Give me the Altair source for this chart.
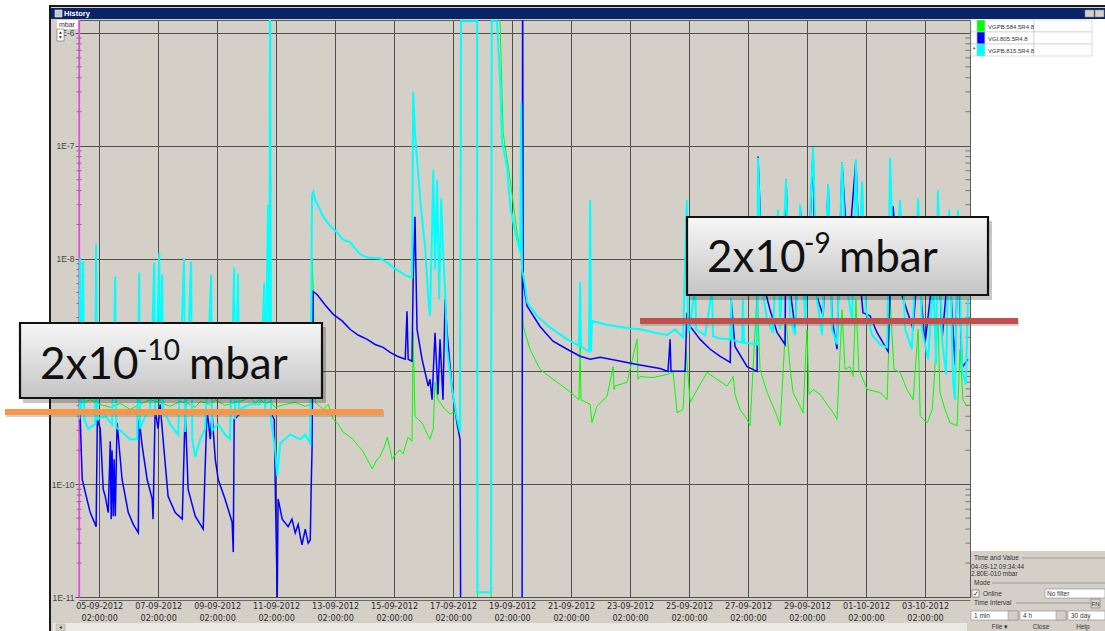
import altair as alt
import pandas as pd
import numpy as np

# ---------------- data ----------------
# time as day-of-month counted from 1 Sept 2012 (31 = 1 Oct), pressure in mbar
green_day = [4.41, 4.78, 5.12, 5.46, 5.80, 6.13, 6.47, 6.81, 7.15, 7.49, 7.83, 8.17, 8.34, 8.51, 8.85, 9.02,
             9.35, 9.69, 10.03, 10.20, 10.37, 10.54, 10.71, 10.88, 11.05, 11.39, 11.73, 12.07, 12.27, 12.30,
             12.34, 12.41, 12.68, 12.85, 13.02, 13.19, 13.35, 13.52, 13.69, 13.86, 14.00, 14.17, 14.34, 14.47,
             14.61, 14.74, 14.85, 14.95, 15.02, 15.19, 15.29, 15.39, 15.49, 15.56, 15.69, 15.73, 15.79, 15.90,
             16.03, 16.17, 16.30, 16.41, 16.47, 16.57, 16.64, 16.81, 16.98, 17.15, 17.22, 17.32, 17.35, 17.90,
             17.91, 18.37, 18.39, 18.61, 18.78, 19.02, 19.25, 19.39, 19.46, 19.69, 20.03, 20.47, 20.95, 21.35,
             21.39, 21.42, 21.73, 21.79, 21.96, 22.30, 22.51, 22.54, 22.57, 22.98, 23.32, 23.35, 23.42, 23.86,
             24.34, 24.54, 24.68, 24.88, 24.98, 25.12, 25.46, 25.69, 26.03, 26.37, 26.58, 26.64, 26.81, 27.05,
             27.15, 27.39, 27.49, 27.73, 28.07, 28.17, 28.37, 28.51, 28.61, 28.95, 29.08, 29.15, 29.29, 29.53,
             29.76, 29.97, 30.10, 30.27, 30.37, 30.54, 30.64, 30.74, 30.84, 31.12, 31.56, 31.80, 31.90, 32.03,
             32.24, 32.47, 32.68, 32.85, 32.92, 33.16, 33.33, 33.52, 33.59, 33.76, 33.93, 34.17, 34.27, 34.37,
             34.51]
green_p = [5.1e-10, 5.6e-10, 5.1e-10, 4.8e-10, 5.2e-10, 4.6e-10, 5.1e-10, 5.6e-10, 5.3e-10, 4.9e-10, 5.4e-10,
           5.1e-10, 4.8e-10, 5.4e-10, 5.1e-10, 5.6e-10, 5.0e-10, 5.3e-10, 5.6e-10, 6.0e-10, 5.2e-10, 5.7e-10,
           5.1e-10, 5.4e-10, 4.8e-10, 5.1e-10, 5.3e-10, 4.9e-10, 5.1e-10, 1.0e-8, 5.3e-9, 5.3e-10, 4.6e-10,
           5.1e-10, 3.75e-10, 3.4e-10, 2.9e-10, 2.7e-10, 2.5e-10, 2.2e-10, 2.0e-10, 1.66e-10, 1.37e-10, 1.6e-10,
           1.77e-10, 2.1e-10, 2.6e-10, 2.0e-10, 1.66e-10, 1.93e-10, 2.0e-10, 1.85e-10, 2.3e-10, 2.6e-10, 2.4e-10,
           2.2e-9, 4.0e-10, 3.75e-10, 3.5e-10, 2.9e-10, 2.5e-10, 3.1e-10, 8.0e-10, 5.6e-10, 5.3e-10, 4.6e-10,
           4.2e-10, 4.4e-10, 3.75e-10, 3.4e-10, 5e-6, 5e-6, 1e-12, 1e-12, 5e-6, 5e-6, 1.3e-7, 5.0e-8, 1.7e-8,
           1.09e-8, 2.5e-9, 1.57e-9, 1.04e-9, 8.5e-10, 6.9e-10, 5.6e-10, 1.66e-9, 5.6e-10, 5.1e-10, 3.5e-10,
           4.9e-10, 6.0e-10, 1.1e-9, 6.9e-10, 7.4e-10, 8.0e-10, 1.92e-9, 8.5e-10, 9.0e-10, 8.8e-10, 9.4e-10,
           9.8e-10, 4.3e-10, 4.6e-10, 1.57e-9, 5.3e-10, 7.7e-10, 9.8e-10, 8.5e-10, 7.4e-10, 9.0e-10, 6.25e-10,
           4.6e-10, 3.75e-10, 3.3e-10, 5.0e-9, 1.04e-9, 6.5e-10, 4.0e-10, 3.3e-10, 2.9e-9, 1.04e-9, 6.5e-10,
           4.3e-10, 2.36e-9, 6.25e-10, 6.9e-10, 6.25e-10, 5.1e-10, 4.3e-10, 3.75e-10, 3.5e-9, 1.04e-9, 1.1e-9,
           9.0e-10, 4.35e-9, 1.04e-9, 6.9e-10, 6.5e-10, 5.6e-10, 4.35e-9, 1.04e-9, 9.8e-10, 6.9e-10, 5.6e-10,
           2.36e-9, 4.0e-10, 3.5e-10, 4.6e-10, 2.9e-9, 6.5e-10, 4.6e-10, 3.5e-10, 3.3e-10, 1.57e-9, 5.6e-10,
           4.9e-10]

blue_day = [4.41, 4.44, 4.51, 4.61, 4.78, 4.95, 4.98, 5.02, 5.12, 5.22, 5.29, 5.39, 5.46, 5.49, 5.52, 5.56,
            5.59, 5.63, 5.69, 5.86, 6.07, 6.24, 6.41, 6.44, 6.54, 6.71, 6.88, 6.91, 6.98, 7.08, 7.15, 7.25,
            7.42, 7.66, 7.90, 8.00, 8.10, 8.34, 8.61, 8.74, 8.85, 8.91, 9.02, 9.12, 9.35, 9.59, 9.63, 9.66,
            9.86, 10.37, 10.88, 11.02, 11.05, 11.12, 11.15, 11.29, 11.49, 11.62, 11.73, 11.83, 11.90, 11.96,
            12.07, 12.17, 12.24, 12.27, 12.30, 12.34, 12.47, 12.74, 13.02, 13.32, 13.59, 13.86, 14.17, 14.44,
            14.71, 14.95, 15.19, 15.46, 15.52, 15.56, 15.69, 15.73, 15.79, 15.86, 16.03, 16.24, 16.30, 16.37,
            16.47, 16.57, 16.64, 16.74, 16.81, 16.88, 17.05, 17.22, 17.32, 17.35, 19.42, 19.44, 19.46, 19.59,
            20.03, 20.47, 20.95, 21.39, 21.73, 22.07, 22.64, 23.32, 24.10, 24.37, 24.44, 24.47, 24.95, 25.01,
            25.12, 25.46, 25.80, 26.14, 26.48, 26.51, 26.64, 27.05, 27.39, 27.42, 27.59, 27.83, 28.07, 28.34,
            28.37, 28.51, 28.68, 28.85, 29.08, 29.29, 29.35, 29.63, 29.80, 29.93, 30.10, 30.27, 30.47, 30.74,
            30.88, 30.98, 31.22, 31.46, 31.83, 32.00, 32.24, 32.68, 32.85, 33.08, 33.52, 33.66, 33.90, 34.10,
            34.20, 34.34, 34.54]
blue_p = [5.6e-10, 3.75e-10, 1.1e-10, 8.5e-11, 5.6e-11, 4.4e-11, 4.2e-11, 3.75e-10, 3.1e-10, 9.0e-11, 7.8e-11,
          5.6e-11, 2.4e-10, 4.9e-11, 2.0e-10, 5.2e-11, 1.66e-10, 5.2e-11, 3.5e-10, 1.1e-10, 5.6e-11, 4.4e-11,
          3.7e-11, 3.75e-10, 2.2e-10, 1.1e-10, 7.4e-11, 4.9e-11, 4.6e-10, 3.1e-10, 5.1e-10, 2.5e-10, 7.8e-11,
          5.6e-11, 4.9e-11, 4.6e-10, 9.0e-11, 5.2e-11, 4.0e-11, 4.6e-10, 2.5e-10, 4.2e-10, 1.66e-10, 1.1e-10,
          7.4e-11, 4.6e-11, 2.5e-11, 3.75e-10, 4.2e-10, 4.4e-10, 4.4e-10, 3.75e-10, 1.1e-10, 1.0e-11, 7.4e-11,
          4.9e-11, 4.2e-11, 4.9e-11, 3.7e-11, 4.4e-11, 3.45e-11, 2.9e-11, 4.0e-11, 3.0e-11, 3.2e-11, 9.0e-11,
          2.0e-10, 5.1e-9, 4.8e-9, 3.9e-9, 3.2e-9, 2.8e-9, 2.36e-9, 2.1e-9, 1.92e-9, 1.73e-9, 1.63e-9, 1.47e-9,
          1.36e-9, 1.28e-9, 3.4e-9, 1.28e-9, 1.23e-9, 6.8e-9, 2.35e-8, 2.36e-9, 1.28e-9, 7.4e-10, 8.5e-10,
          5.6e-10, 2.2e-9, 6.25e-10, 1.92e-9, 5.6e-10, 4.35e-9, 2.2e-9, 6.9e-10, 3.4e-10, 2.5e-10, 1.0e-12,
          1.0e-12, 5e-6, 6.1e-9, 3.8e-9, 2.5e-9, 1.85e-9, 1.57e-9, 1.36e-9, 1.28e-9, 1.33e-9, 1.25e-9, 1.15e-9,
          1.06e-9, 1.0e-9, 1.92e-9, 1.0e-9, 1.0e-9, 3.3e-9, 2.5e-9, 1.92e-9, 1.57e-9, 1.36e-9, 1.2e-9, 4.35e-9,
          1.66e-9, 1.1e-9, 1.0e-9, 8.0e-8, 6.1e-9, 3.5e-9, 2.2e-9, 1.73e-9, 5.0e-8, 5.3e-9, 2.36e-9, 2.9e-8,
          4.35e-9, 9.6e-8, 5.3e-9, 3.1e-9, 4.5e-8, 2.9e-9, 1.57e-9, 7.1e-8, 9.8e-9, 7.5e-8, 6.5e-9, 3.3e-9,
          3.1e-9, 2.2e-9, 1.5e-9, 2.9e-8, 5.3e-9, 2.36e-9, 9.8e-9, 1.73e-9, 1.8e-8, 1.92e-9, 9.8e-9, 1.15e-9,
          1.2e-8, 1.08e-9, 1.28e-9]

cyan_day = [4.41, 4.44, 4.47, 4.54, 4.58, 4.71, 4.95, 4.98, 5.02, 5.29, 5.52, 5.63, 5.66, 5.86, 6.13, 6.37,
            6.44, 6.47, 6.64, 6.81, 6.95, 6.98, 7.12, 7.15, 7.22, 7.25, 7.49, 7.76, 7.96, 8.00, 8.20, 8.24,
            8.34, 8.51, 8.68, 8.88, 8.91, 9.12, 9.35, 9.52, 9.66, 9.69, 9.79, 9.83, 10.20, 10.54, 10.68, 10.71,
            10.81, 10.85, 10.88, 10.91, 11.05, 11.12, 11.22, 11.56, 11.90, 12.07, 12.24, 12.30, 12.34, 12.41,
            12.68, 12.91, 13.15, 13.35, 13.59, 13.76, 13.93, 14.17, 14.61, 14.88, 15.05, 15.29, 15.52, 15.69,
            15.73, 15.79, 15.97, 16.14, 16.24, 16.30, 16.37, 16.41, 16.47, 16.54, 16.61, 16.68, 16.74, 16.81,
            16.88, 17.05, 17.22, 17.32, 17.35, 17.90, 17.91, 18.37, 18.39, 18.57, 18.68, 18.74, 18.91, 19.02,
            19.19, 19.36, 19.39, 19.42, 19.49, 19.59, 19.93, 20.37, 20.95, 21.35, 21.39, 21.42, 21.69, 21.73,
            21.76, 21.79, 22.24, 22.64, 23.08, 23.42, 23.93, 24.34, 24.61, 24.88, 25.01, 25.05, 25.12, 25.29,
            25.32, 25.63, 25.86, 25.90, 26.14, 26.48, 26.51, 26.54, 26.88, 26.91, 26.95, 27.39, 27.42, 27.56,
            27.73, 27.93, 28.10, 28.17, 28.37, 28.51, 28.68, 28.85, 29.02, 29.29, 29.42, 29.59, 29.80, 29.93,
            30.10, 30.27, 30.44, 30.61, 30.74, 30.84, 30.95, 31.08, 31.29, 31.56, 31.80, 31.90, 32.03, 32.24,
            32.41, 32.64, 32.85, 32.98, 33.19, 33.36, 33.46, 33.52, 33.66, 33.80, 33.90, 34.03, 34.10, 34.20,
            34.34, 34.47, 34.54]
cyan_p = [3.75e-10, 1.02e-8, 4.2e-10, 9.4e-9, 3.75e-10, 3.1e-10, 3.4e-10, 1.33e-8, 3.75e-10, 4.0e-10, 3.4e-10,
          6.9e-9, 3.2e-10, 2.9e-10, 2.5e-10, 2.5e-10, 7.5e-9, 3.1e-10, 4.0e-10, 4.4e-10, 9.2e-9, 4.6e-10, 1.13e-8,
          5.1e-10, 7.2e-9, 4.6e-10, 3.4e-10, 2.75e-10, 1.0e-8, 2.9e-10, 9.4e-9, 2.5e-10, 1.74e-10, 2.5e-10,
          3.1e-10, 7.2e-9, 3.0e-10, 3.4e-10, 2.75e-10, 2.5e-10, 8.3e-9, 3.75e-10, 7.3e-9, 4.6e-10, 5.1e-10,
          5.1e-10, 6.1e-9, 4.6e-10, 3.0e-8, 5.6e-10, 5e-6, 3.75e-10, 2.0e-10, 1.18e-10, 2.3e-10, 2.75e-10, 2.5e-10,
          2.75e-10, 2.3e-10, 3.7e-8, 3.9e-8, 3.3e-8, 2.35e-8, 1.95e-8, 1.7e-8, 1.47e-8, 1.39e-8, 1.23e-8, 1.09e-8,
          1.02e-8, 1.0e-8, 9.1e-9, 8.3e-9, 7.6e-9, 7.0e-9, 6.8e-9, 3.0e-7, 1.3e-7, 3.3e-8, 1.2e-8, 4.6e-9, 3.1e-9,
          1.8e-8, 6.1e-8, 8.0e-9, 5.0e-8, 4.35e-9, 3.4e-8, 1.2e-8, 5.3e-9, 1.57e-9, 6.9e-10, 3.75e-10, 2.9e-10,
          1.27e-6, 1.27e-6, 1.1e-11, 1.1e-11, 1.27e-6, 1.27e-6, 3.6e-7, 1.1e-7, 6.5e-8, 2.9e-8, 1.7e-8, 1.13e-8,
          2.4e-7, 8.0e-9, 6.5e-9, 4.1e-9, 3.1e-9, 2.45e-9, 1.92e-9, 1.69e-9, 6.2e-9, 1.66e-9, 1.5e-9, 3.3e-8,
          1.5e-9, 2.8e-9, 2.6e-9, 2.5e-9, 2.4e-9, 2.36e-9, 2.2e-9, 2.1e-9, 2.36e-9, 2.0e-9, 3.3e-8, 2.2e-9,
          2.5e-9, 5.9e-9, 2.36e-9, 2.1e-9, 5.3e-9, 2.05e-9, 1.95e-9, 1.92e-9, 4.5e-9, 1.9e-9, 1.8e-9, 4.35e-9,
          1.8e-9, 1.73e-9, 7.8e-8, 5.3e-9, 2.9e-9, 2.2e-9, 2.7e-8, 2.36e-9, 5.0e-8, 2.9e-9, 2.1e-9, 3.0e-8,
          2.9e-9, 9.6e-8, 4.35e-9, 2.1e-9, 4.5e-8, 2.36e-9, 1.73e-9, 7.1e-8, 5.3e-9, 2.9e-9, 7.5e-8, 8.0e-9,
          4.8e-8, 3.5e-9, 2.1e-9, 1.73e-9, 1.63e-9, 7.8e-8, 5.3e-9, 3.3e-8, 2.36e-9, 1.57e-9, 3.4e-8, 2.36e-9,
          1.28e-9, 6.5e-9, 1.15e-9, 4.0e-8, 1.92e-9, 9.4e-10, 2.7e-8, 8.5e-10, 5.6e-10, 2.7e-8, 1.04e-9, 7.7e-10,
          4.35e-9]

series_names = ["VGPB.584.5R4.8", "VGI.805.5R4.8", "VGPB.815.5R4.8"]
series_colors = ["#00ff00", "#0000ff", "#00ffff"]
series_widths = [1.0, 1.5, 2.0]

y_major = [1e-11, 1e-10, 1e-9, 1e-8, 1e-7, 1e-6]
y_minor = [m * 10.0 ** e for e in range(-11, -6) for m in range(2, 10)]
x_tick_dates = [(9, d) for d in range(5, 30, 2)] + [(10, 1), (10, 3)]

# ---------------- helpers ----------------
def to_time(days):
    return pd.Timestamp("2012-09-01") + pd.to_timedelta(np.asarray(days, dtype=float) - 1.0, unit="D")

OX, OY = 79, 20          # plot-area origin inside the 1105x631 page
W, H = 891, 577
one = pd.DataFrame({"k": [0]})
UI = "Liberation Sans"

def box(x1, y1, x2, y2, fill, stroke=None, sw=1.0, fo=1.0):
    kw = dict(fill=fill, fillOpacity=fo)
    if stroke is not None:
        kw.update(stroke=stroke, strokeWidth=sw)
    else:
        kw.update(strokeWidth=0)
    return alt.Chart(one).mark_rect(**kw).encode(
        x=alt.value(x1 - OX), x2=alt.value(x2 - OX),
        y=alt.value(y1 - OY), y2=alt.value(y2 - OY))

def txt(x, y, s, size=7, color="#222", font=UI, weight="normal", align="left", baseline="middle"):
    return alt.Chart(one).mark_text(
        fontSize=size, color=color, font=font, fontWeight=weight, align=align, baseline=baseline
    ).encode(x=alt.value(x - OX), y=alt.value(y - OY), text=alt.value(s))

def tri(x, y, shape):
    return alt.Chart(one).mark_point(shape=shape, filled=True, size=8, color="#222", opacity=1).encode(
        x=alt.value(x - OX), y=alt.value(y - OY))

xscale = alt.Scale(domain=[alt.DateTime(year=2012, month=9, date=4, hours=9, minutes=34, seconds=44),
                           alt.DateTime(year=2012, month=10, date=4, hours=14, minutes=36)], nice=False)
yscale = alt.Scale(type="log", domain=[1e-11, 1.3e-6], nice=False)

xaxis = alt.Axis(
    values=[alt.DateTime(year=2012, month=m, date=d, hours=2) for m, d in x_tick_dates],
    labelExpr="[timeFormat(datum.value, '%d-%m-%Y'), timeFormat(datum.value, '%H:%M:%S')]",
    title=None, grid=True, gridColor="#505050", gridWidth=1, gridOpacity=1,
    tickColor="#505050", tickSize=1, domainColor="#6a6a6a", offset=3,
    labelFont="Liberation Sans Narrow, DejaVu Sans Condensed, Liberation Sans", labelFontSize=9,
    labelColor="#2a2a2a", labelLineHeight=12, labelPadding=0, labelOverlap=False, labelFlush=False)
# the 1E-9 label is hidden behind the call-out box in the original, so it is left blank
yaxis = alt.Axis(
    values=y_major,
    labelExpr="round(log(datum.value) / LN10) == -9 ? '' : '1E' + round(log(datum.value) / LN10)",
    title=None, grid=True, gridColor="#505050", gridWidth=1, gridOpacity=1,
    tickColor="#505050", tickSize=4, domainColor="#e050e0", domainWidth=1.2,
    labelFont=UI, labelFontSize=8.5, labelColor="#444", labelPadding=1)

layers = []

# window chrome
layers += [
    box(0, 0, 49, 631, "#ffffff"),
    box(0, 0, 1105, 5, "#ffffff"),
    box(49, 5, 1105, 7, "#1a1a1a"),
    box(49, 5, 51, 631, "#1a1a1a"),
    box(51, 8, 1105, 19, "#0a246a"),
    box(55, 10, 62, 17, "#c8c8c8", stroke="#ffffff", sw=0.5),
    txt(64, 13.5, "History", size=7.5, color="#ffffff", weight="bold"),
    box(1085, 10, 1094, 17, "#d4d0c8", stroke="#808080", sw=0.5),
    box(1095, 10, 1104, 17, "#d4d0c8", stroke="#808080", sw=0.5),
    # right panel
    box(971, 19, 1105, 551, "#ffffff"),
    # bottom scroll bar
    box(53, 623, 967, 631, "#ebe9e4"),
    box(56, 624, 65, 631, "#d4d0c8", stroke="#9a9a9a", sw=0.5),
    tri(60.5, 627.5, "triangle-left"),
]

# legend table
for i, (name, col) in enumerate(zip(series_names, series_colors)):
    y1 = 20 + 12 * i
    layers += [
        box(971, y1, 977, y1 + 12, "#ffffff", stroke="#c8c8c8", sw=0.6),
        box(977, y1, 985, y1 + 12, col, stroke="#c8c8c8", sw=0.6),
        box(985, y1, 1034, y1 + 12, "#ffffff", stroke="#c8c8c8", sw=0.6),
        box(1034, y1, 1092, y1 + 12, "#ffffff", stroke="#c8c8c8", sw=0.6),
        txt(988, y1 + 6.5, name, size=6, color="#333"),
    ]
layers.append(txt(974, 50, "*", size=7, color="#333", align="center"))

# bottom-right control panel
layers += [
    txt(974, 558, "Time and Value", size=6.5, color="#333"),
    box(1022, 557.5, 1105, 558.5, "#9a9a9a"),
    txt(971, 567, "04-09-12 09:34:44", size=6.5, color="#333"),
    txt(971, 574, "2.80E-010 mbar", size=6.5, color="#333"),
    txt(974, 583, "Mode", size=6.5, color="#333"),
    box(992, 582.5, 1105, 583.5, "#9a9a9a"),
    box(972, 590, 979, 597, "#ffffff", stroke="#555", sw=0.6),
    txt(975.5, 593.5, "✓", size=7, color="#111", align="center"),
    txt(983, 594, "Online", size=6.5, color="#333"),
    box(1045, 589, 1105, 598, "#ffffff", stroke="#888", sw=0.6),
    txt(1047, 593.5, "No filter", size=6.5, color="#333"),
    txt(974, 603, "Time Interval", size=6.5, color="#333"),
    box(1016, 602.5, 1090, 603.5, "#9a9a9a"),
    box(1091, 599, 1100, 608, "#d4d0c8", stroke="#777", sw=0.6),
    txt(1095.5, 603.5, "FN", size=6, color="#333", align="center"),
    box(971, 611, 1018, 620, "#ffffff", stroke="#888", sw=0.6),
    box(1008, 611, 1018, 620, "#d4d0c8", stroke="#888", sw=0.5),
    txt(974, 615.5, "1 min", size=6.5, color="#333"),
    box(1020, 611, 1066, 620, "#ffffff", stroke="#888", sw=0.6),
    box(1056, 611, 1066, 620, "#d4d0c8", stroke="#888", sw=0.5),
    txt(1023, 615.5, "4 h", size=6.5, color="#333"),
    box(1068, 611, 1105, 620, "#ffffff", stroke="#888", sw=0.6),
    txt(1071, 615.5, "30 day", size=6.5, color="#333"),
    txt(1000, 627, "File ▾", size=6.5, color="#333", align="center"),
    txt(1041, 627, "Close", size=6.5, color="#333", align="center"),
    txt(1083, 627, "Help", size=6.5, color="#333", align="center"),
]

# minor log ticks on both sides of the plot
minor_df = pd.DataFrame({"v": y_minor})
for xpos in (0, W - 2):
    layers.append(alt.Chart(minor_df).mark_tick(color="#505050", thickness=1, size=5).encode(
        y=alt.Y("v:Q", scale=yscale, axis=yaxis), x=alt.value(xpos)))

# magenta cursor line along the left edge of the plot
layers.append(box(78.4, 20, 79.8, 597, "#e24ae2"))

# data series (green, blue, cyan on top)
for name, col, sw, days, vals in zip(series_names, series_colors, series_widths,
                                     [green_day, blue_day, cyan_day], [green_p, blue_p, cyan_p]):
    df = pd.DataFrame({"t": to_time(days), "p": vals, "s": name})
    layers.append(alt.Chart(df).mark_line(color=col, strokeWidth=sw, clip=True).encode(
        x=alt.X("t:T", scale=xscale, axis=xaxis),
        y=alt.Y("p:Q", scale=yscale, axis=yaxis)))

# axis-corner widgets
layers += [
    box(57, 20, 78, 29, "#ffffff"),
    txt(59, 25, "mbar", size=7, color="#333"),
    box(57, 29, 64, 41, "#ffffff", stroke="#666", sw=0.6),
    tri(60.5, 32.5, "triangle-up"),
    tri(60.5, 37.5, "triangle-down"),
]

# annotations (call-out boxes and level lines)
grad = alt.Gradient(gradient="linear",
                    stops=[alt.GradientStop(color="#f7f7f7", offset=0),
                           alt.GradientStop(color="#c4c4c4", offset=1)],
                    x1=0, x2=0, y1=0, y2=1)
ANN = "Lato"

def callout(x1, y1, x2, y2, base, super_text, xs):
    return [
        box(x1 + 3, y1 + 4, x2 + 4, y2 + 5, "#000000", fo=0.22),
        alt.Chart(one).mark_rect(color=grad, stroke="#111111", strokeWidth=2.2).encode(
            x=alt.value(x1 - OX), x2=alt.value(x2 - OX), y=alt.value(y1 - OY), y2=alt.value(y2 - OY)),
        txt(xs[0], base, "2x10", size=44, color="#111", font=ANN, baseline="alphabetic"),
        txt(xs[1], base - 19, super_text, size=28, color="#111", font=ANN, baseline="alphabetic"),
        txt(xs[2], base, "mbar", size=44, color="#111", font=ANN, baseline="alphabetic"),
    ]

layers += [box(6, 411, 384, 417, "#7a7a7a", fo=0.35), box(5, 409, 383, 415, "#f79646")]
layers += [box(641, 320, 1019, 326, "#7a7a7a", fo=0.35), box(640, 318, 1018, 324, "#c0504d")]
layers += callout(20, 323, 322, 398, 379, "-10", (40, 137, 189))
layers += callout(687, 217, 988, 295, 272, "-9", (707, 804, 839))

chart = alt.layer(*layers).properties(
    width=W, height=H,
    padding={"left": OX, "top": OY, "right": 1105 - OX - W, "bottom": 631 - OY - H},
    autosize=alt.AutoSizeParams(type="none"),
    background="#d4d0c8",
).configure_view(fill="#d4d0c8", stroke="#5a5a5a", strokeWidth=1)

chart.save("out.html", embed_options={"renderer": "svg", "actions": False})
